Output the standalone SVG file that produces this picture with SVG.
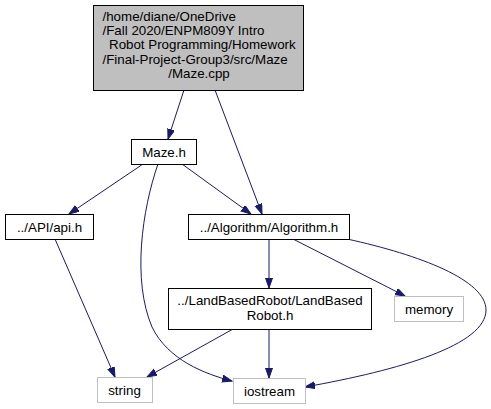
<svg xmlns="http://www.w3.org/2000/svg" width="491" height="409" viewBox="0 0 491 409">
<style>
text{font-family:"Liberation Sans",Arial,Helvetica,sans-serif;font-size:13.33px;fill:#000}
.c{text-anchor:middle}
.n rect{fill:#fff;stroke:#000;stroke-width:1}
.g rect{fill:#fff;stroke:#bfbfbf;stroke-width:1}
.e path{fill:none;stroke:#191970;stroke-width:1}
</style>
<defs>
<marker id="a" markerUnits="userSpaceOnUse" markerWidth="11" markerHeight="8" refX="10" refY="3.5" orient="auto" viewBox="0 0 11 8">
<path d="M0,0 L10,3.5 L0,7 z" fill="#191970" stroke="#191970" stroke-width="1"/>
</marker>
</defs>
<rect width="491" height="409" fill="#fff"/>
<g id="connectors" class="e">
<path d="M184,90 L168,139" marker-end="url(#a)"/>
<path d="M215,90 L262,214" marker-end="url(#a)"/>
<path d="M143,164 L69,214" marker-end="url(#a)"/>
<path d="M182,164 L251,214" marker-end="url(#a)"/>
<path d="M158,164 C142,210 132,280 152,327 C168,360 205,374 232,381" marker-end="url(#a)"/>
<path d="M55,239 L115,377" marker-end="url(#a)"/>
<path d="M269,239 L269,288" marker-end="url(#a)"/>
<path d="M293,239 L405,296" marker-end="url(#a)"/>
<path d="M347,239 C420,255 486,280 486,310 C486,345 400,370 305,387" marker-end="url(#a)"/>
<path d="M233,329 L147,377" marker-end="url(#a)"/>
<path d="M269,329 L269,378" marker-end="url(#a)"/>
</g>
<g id="node-maze-cpp">
<rect x="93.5" y="5.5" width="210" height="85" fill="#bfbfbf" stroke="#000"/>
<text x="102.5" y="21">/home/diane/OneDrive</text>
<text x="102.5" y="35.2">/Fall 2020/ENPM809Y Intro</text>
<text x="109" y="49.4">Robot Programming/Homework</text>
<text x="102.5" y="63.6">/Final-Project-Group3/src/Maze</text>
<text class="c" x="199" y="77.8">/Maze.cpp</text>
</g>
<g id="node-maze-h" class="n">
<rect x="131.5" y="139.5" width="65" height="25"/>
<text class="c" x="164" y="156.5">Maze.h</text>
</g>
<g id="node-api-h" class="n">
<rect x="5.5" y="214.5" width="88" height="25"/>
<text class="c" x="49.5" y="231.5">../API/api.h</text>
</g>
<g id="node-algorithm-h" class="n">
<rect x="188.5" y="214.5" width="161" height="25"/>
<text class="c" x="269" y="231.5">../Algorithm/Algorithm.h</text>
</g>
<g id="node-landbasedrobot-h" class="n">
<rect x="168.5" y="288.5" width="203" height="41"/>
<text class="c" x="270" y="305">../LandBasedRobot/LandBased</text>
<text class="c" x="270" y="319.5">Robot.h</text>
</g>
<g id="node-memory" class="g">
<rect x="394.5" y="296.5" width="69" height="25"/>
<text class="c" x="429" y="313.5">memory</text>
</g>
<g id="node-string" class="g">
<rect x="97.5" y="377.5" width="55" height="25"/>
<text class="c" x="124.5" y="394.5">string</text>
</g>
<g id="node-iostream" class="g">
<rect x="233.5" y="378.5" width="72" height="25"/>
<text class="c" x="269.5" y="395.5">iostream</text>
</g>
</svg>
